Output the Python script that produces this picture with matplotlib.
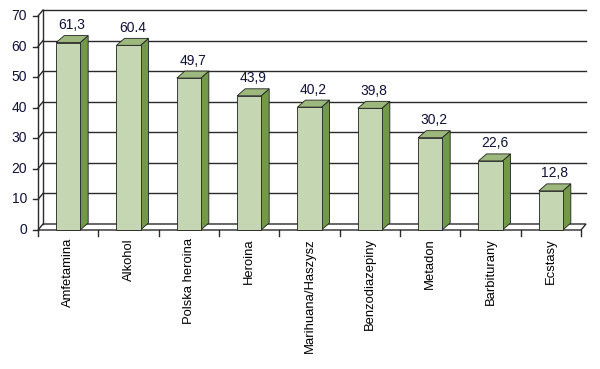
import numpy as np
import matplotlib.pyplot as plt
from matplotlib.patches import Polygon

plt.rcParams['font.family'] = ['Liberation Sans', 'DejaVu Sans']

# Dane
categories = ['Amfetamina', 'Alkohol', 'Polska heroina', 'Heroina', 'Marihuana/Haszysz',
              'Benzodiazepiny', 'Metadon', 'Barbiturany', 'Ecstasy']
values = [61.3, 60.4, 49.7, 43.9, 40.2, 39.8, 30.2, 22.6, 12.8]
value_labels = ['61,3', '60.4', '49,7', '43,9', '40,2', '39,8', '30,2', '22,6', '12,8']
yticks = [0, 10, 20, 30, 40, 50, 60, 70]

front_c = '#c5d6b2'
top_c = '#9db87c'
side_c = '#72994a'
txt_c = '#10103a'
line_c = '#2a2a2a'

fig = plt.figure(figsize=(6, 3.69), dpi=100)
ax = fig.add_axes([38/600, (369-230)/369, 543/600, 214/369])
n = len(categories)
ax.set_xlim(0, n)
ax.set_ylim(0, 70)
ax.axis('off')

# przesuniecia glebokosci (w jednostkach danych)
wdx, wdy = 5/60.33, 6/3.057
bdx, bdy = 8/60.33, 7/3.057
bw = 24/60.33

# podloga
ax.add_patch(Polygon([(0, 0), (n, 0), (n+wdx, wdy), (wdx, wdy)], closed=True,
                     facecolor='white', edgecolor=line_c, lw=1.0, clip_on=False, zorder=1))
# sciana tylna - linie siatki
for v in yticks[1:]:
    ax.plot([wdx, n+wdx], [v+wdy, v+wdy], color=line_c, lw=1.0, clip_on=False, zorder=1)
    ax.plot([0, wdx], [v, v+wdy], color=line_c, lw=1.0, clip_on=False, zorder=1)
ax.plot([wdx, wdx], [wdy, 70+wdy], color=line_c, lw=1.0, clip_on=False, zorder=1)
ax.plot([0, 0], [0, 70], color=line_c, lw=1.0, clip_on=False, zorder=1)

# os Y
for v in yticks:
    ax.plot([-0.083, 0], [v, v], color=line_c, lw=1.0, clip_on=False)
    ax.text(-0.18, v, str(v), ha='right', va='center', fontsize=10, color=txt_c)

# znaczniki kategorii
for i in range(n+1):
    ax.plot([i, i], [0, -1.8], color=line_c, lw=1.0, clip_on=False)

# slupki 3D
for i, (v, lab) in enumerate(zip(values, value_labels)):
    x0 = i + 0.5 - bw/2
    x1 = x0 + bw
    ax.add_patch(Polygon([(x1, 0), (x1+bdx, bdy), (x1+bdx, v+bdy), (x1, v)], closed=True,
                         facecolor=side_c, edgecolor='#202020', lw=0.6, clip_on=False, zorder=3))
    ax.add_patch(Polygon([(x0, v), (x1, v), (x1+bdx, v+bdy), (x0+bdx, v+bdy)], closed=True,
                         facecolor=top_c, edgecolor='#202020', lw=0.6, clip_on=False, zorder=3))
    ax.add_patch(Polygon([(x0, 0), (x1, 0), (x1, v), (x0, v)], closed=True,
                         facecolor=front_c, edgecolor='#202020', lw=0.6, clip_on=False, zorder=4))
    ax.text(i + 0.5 + bdx/2, v + 5.7, lab, ha='center', va='center', fontsize=10, color=txt_c)
    ax.text(i + 0.5, -2.6, categories[i], rotation=90, ha='center', va='top',
            fontsize=9.4, color='black')

fig.savefig('out.png', dpi=100)
